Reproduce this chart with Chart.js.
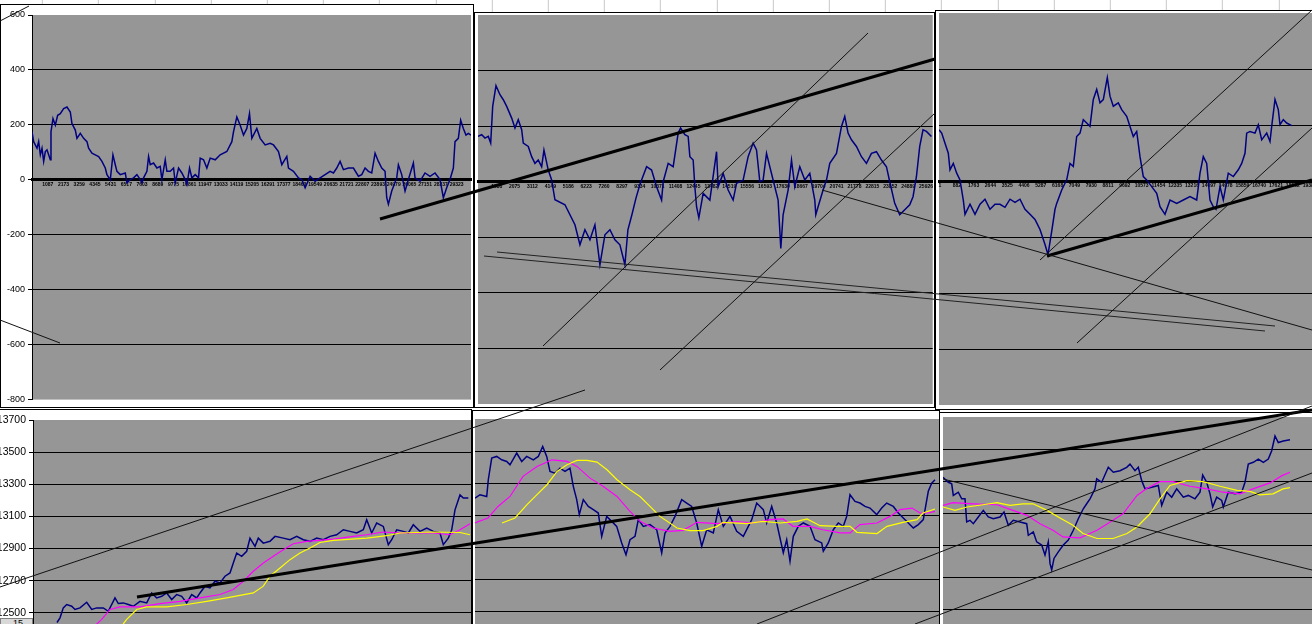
<!DOCTYPE html>
<html>
<head>
<meta charset="utf-8">
<script src="https://cdn.jsdelivr.net/npm/chart.js@4.4.0/dist/chart.umd.min.js"></script>
<style>
  html, body { margin: 0; padding: 0; }
  body { width: 1312px; height: 624px; overflow: hidden; position: relative; background: #fff; }
  #sheet { position: absolute; left: 0; top: 0; width: 1312px; height: 14px;
    background-image: repeating-linear-gradient(to right, transparent 0, transparent 55.2px, #c8c8c8 55.2px, #c8c8c8 56.2px);
    background-position: -13.2px 0; }
  .box { position: absolute; }
  .box canvas { display: block; }
  #rowtag { position: absolute; left: 0; top: 618px; width: 33px; height: 10px; background: #d8d8d8;
    border: 1px solid #808080; font: 9px "Liberation Sans", Arial, sans-serif; line-height: 9px; padding-left: 12px; box-sizing: border-box; }
</style>
</head>
<body>
<div id="sheet"></div>
<div class="box" style="left:0;top:4px"><canvas id="tl" width="474" height="404"></canvas></div>
<div class="box" style="left:474px;top:12px"><canvas id="tm" width="461" height="396"></canvas></div>
<div class="box" style="left:935px;top:10px"><canvas id="tr" width="395" height="400"></canvas></div>
<div class="box" style="left:-10px;top:409px"><canvas id="bl" width="482" height="250"></canvas></div>
<div class="box" style="left:472px;top:410px"><canvas id="bm" width="468" height="250"></canvas></div>
<div class="box" style="left:939px;top:412px"><canvas id="br" width="391" height="250"></canvas></div>
<div class="box" style="left:0;top:0"><canvas id="lines" width="1312" height="624"></canvas></div>
<div id="rowtag">15</div>
<script>
// ---- top row: difference series (bar number / value) ----
const tlBar = [0,115,345,460,575,690,805,920,1035,1150,1265,1311,1449,1610,1771,1955,2185,2415,2645,2760,2990,3105,3335,3565,3795,3910,4140,4370,4600,4830,5060,5175,5405,5589,5750,5865,6095,6440,6555,6785,7015,7245,7475,7590,7705,7935,8050,8165,8395,8625,8855,8970,9200,9315,9545,9775,9890,10120,10350,10580,10695,10879,11040,11270,11500,11615,11845,12075,12305,12650,12995,13455,13800,13915,14145,14375,14605,14835,15019,15180,15525,15755,16100,16445,16675,17020,17250,17595,17710,18055,18400,18630,18860,19205,19550,19895,20240,20585,20815,21045,21275,21505,21850,22195,22540,22770,23000,23230,23460,23690,23920,24150,24380,24495,24610,24840,25185,25300,25530,25760,25990,26335,26450,26795,27140,27485,27830,28175,28405,28635,28865,29095,29210,29440,29601,29785,29969,30130,30314];
const tlDiff = [175,139,115,139,91,115,67,103,109,91,73,175,223,199,235,241,259,265,247,205,181,151,169,151,139,115,97,91,85,67,43,19,0,91,55,31,19,25,-11,1,7,19,1,-11,7,31,85,55,61,43,49,1,73,31,31,43,-11,43,25,1,-17,43,7,19,7,79,73,43,79,73,91,103,139,175,229,199,163,187,241,151,187,151,127,133,127,103,55,85,43,31,7,1,-29,13,-5,7,19,31,25,43,67,37,43,43,13,19,43,31,25,97,67,43,31,-65,-89,-41,7,55,19,-41,1,61,7,-5,25,13,25,1,-65,-29,1,43,139,151,217,187,163,169,163];
const tlTicks = ['1087','2173','3259','4345','5431','6517','7603','8689','9775','10861','11947','13033','14119','15205','16291','17377','18463','19549','20635','21721','22807','23893','24979','26065','27151','28237','29323'];

const tmBar = [0,37,70,103,127,147,180,220,253,287,337,370,403,437,453,503,537,570,603,637,660,703,737,770,870,970,1020,1070,1120,1170,1220,1270,1320,1370,1420,1470,1500,1540,1580,1620,1687,1737,1787,1837,1853,1903,1953,2003,2027,2070,2103,2120,2153,2170,2187,2210,2253,2320,2387,2403,2453,2503,2553,2587,2653,2703,2753,2787,2820,2853,2887,2920,2953,3003,3030,3053,3103,3137,3170,3220,3270,3320,3370,3380,3403,3453,3487,3520,3587,3637,3670,3703,3737,3787,3837,3887,3937,3987,4037,4087,4120,4170,4220,4270,4320,4353,4387,4420,4453,4487,4537];
const tmDiff = [163,169,157,163,139,271,346,313,295,271,229,193,223,187,139,127,90,66,78,54,114,42,6,-65,-83,-155,-227,-173,-209,-155,-299,-191,-173,-209,-227,-299,-173,-119,-60,-10,54,42,-18,-66,0,66,54,175,193,169,163,90,78,-18,-90,-130,-42,-66,108,-18,30,-30,-66,-6,6,90,139,114,0,6,102,54,6,-66,-240,-119,-30,78,-18,54,6,30,-66,-119,-90,-30,6,66,102,199,235,175,151,127,90,66,102,108,78,54,0,-78,-119,-101,-83,-54,18,127,187,181,163];
const tmTicks = ['1038','2075','3112','4149','5186','6223','7260','8297','9334','10371','11408','12445','13482','14519','15556','16593','17630','18667','19704','20741','21778','22815','23852','24889','25926'];

const trBar = [0,27,60,93,110,143,177,210,243,260,310,360,410,460,510,560,610,660,710,760,810,860,910,960,1010,1060,1090,1130,1160,1177,1227,1277,1310,1343,1377,1410,1443,1477,1510,1543,1577,1610,1643,1683,1710,1743,1793,1827,1877,1910,1943,1977,2010,2043,2077,2127,2177,2210,2260,2310,2377,2443,2510,2577,2610,2643,2677,2710,2743,2770,2810,2843,2893,2943,2993,3027,3060,3077,3110,3160,3193,3227,3277,3310,3327,3360,3393,3410,3443,3477,3527];
const trDiff = [183,171,135,99,40,63,28,4,-68,-119,-83,-119,-83,-65,-101,-83,-83,-94,-65,-76,-65,-101,-119,-137,-173,-227,-263,-173,-101,-80,-32,4,63,52,159,171,219,207,195,291,327,279,291,369,303,267,279,255,231,195,159,177,87,16,4,-20,-44,-92,-119,-68,-80,-68,-56,-68,28,87,63,-68,-92,-101,-20,-68,28,16,40,63,99,171,177,171,201,147,171,141,195,291,255,201,219,207,198];
const trTicks = ['1','882','1763','2644','3525','4406','5287','6168','7049','7930','8811','9692','10573','11454','12335','13216','14097','14978','15859','16740','17621','18502','19383'];

const topYTicks = [-800,-600,-400,-200,0,200,400,600];

// ---- bottom row: price with two moving averages ----
const blBar = [240,270,303,337,387,420,470,537,587,637,703,753,820,853,903,953,1003,1070,1137,1187,1237,1287,1337,1387,1437,1487,1537,1587,1637,1670,1720,1770,1820,1870,1920,1970,2003,2037,2087,2137,2170,2220,2253,2303,2370,2420,2503,2570,2637,2703,2770,2837,2903,2970,3037,3103,3170,3237,3303,3337,3387,3437,3503,3553,3587,3637,3703,3753,3803,3870,3937,4003,4070,4103,4153,4187,4220,4270,4303,4353];
const blPrice = [12440,12469,12531,12552,12541,12521,12531,12566,12521,12531,12531,12510,12593,12558,12562,12552,12541,12572,12562,12624,12593,12603,12624,12583,12614,12603,12562,12614,12593,12624,12666,12655,12697,12686,12728,12748,12810,12872,12852,12883,12965,12914,12965,12934,12945,12976,12965,12955,12976,12955,12945,12965,12955,12976,12986,13017,13007,12997,13017,13079,12997,13059,13038,12924,12955,13017,13007,12997,13048,13007,13028,13007,12997,12924,12965,13017,13141,13234,13214,13214];
const blShortBar = [620,687,770,870,1070,1270,1470,1670,1870,2003,2103,2203,2303,2403,2503,2603,2737,3003,3203,3337,3503,3670,4003,4170,4270,4370];
const blShort = [12420,12459,12521,12537,12537,12558,12572,12593,12614,12645,12697,12759,12810,12852,12893,12930,12945,12959,12976,12986,13003,12997,12997,12986,13017,13055];
const blLongBar = [890,937,1037,1137,1337,1537,1737,1937,2203,2303,2370,2470,2570,2670,2770,2870,3003,3337,3537,3670,4003,4270,4370];
const blLong = [12420,12459,12521,12537,12537,12552,12572,12593,12624,12666,12728,12779,12831,12872,12903,12938,12951,12965,12980,12997,13003,13000,12986];

const bmBar = [0,50,117,133,167,217,267,317,350,417,467,517,583,633,677,717,750,800,850,900,950,983,1017,1043,1083,1133,1183,1233,1267,1317,1367,1417,1467,1510,1550,1600,1633,1683,1750,1817,1867,1900,1950,2000,2067,2117,2167,2217,2267,2317,2383,2433,2483,2550,2617,2683,2767,2817,2883,2917,2967,3017,3083,3117,3150,3183,3233,3283,3350,3400,3467,3483,3533,3583,3633,3683,3717,3750,3800,3850,3900,3950,4017,4067,4117,4183,4233,4283,4333,4383,4433,4483,4533,4567,4600];
const bmPrice = [13208,13229,13218,13322,13457,13467,13446,13436,13415,13488,13436,13467,13446,13467,13529,13467,13374,13363,13394,13374,13394,13281,13198,13105,13198,13156,13136,13115,12970,13094,13063,13032,12929,12856,12949,12970,13074,13032,13043,13011,12867,12991,13032,13094,13198,13177,13156,13053,12908,13011,12991,13136,13032,13094,13001,12970,13074,13177,13136,13053,13156,13053,12867,12949,12815,12970,13032,13053,13032,12949,12929,12877,12929,13011,13053,13032,13094,13229,13187,13177,13156,13146,13105,13146,13177,13156,13115,13084,13053,13022,13043,13074,13250,13301,13322];
const bmShortBar = [0,130,230,350,480,620,770,920,1020,1150,1280,1420,1550,1650,1780,1950,2080,2220,2420,2620,2780,2950,3080,3180,3350,3480,3650,3750,3850,4020,4150,4250,4370,4450,4530,4600];
const bmShort = [13053,13084,13156,13218,13343,13405,13446,13436,13405,13332,13281,13218,13125,13063,13022,13001,13007,13057,13049,13061,13053,13074,13078,13032,13032,13011,12991,12991,13043,13053,13094,13136,13146,13115,13115,13125];
const bmLongBar = [270,400,520,620,720,820,920,1020,1120,1220,1320,1420,1550,1650,1750,1850,2020,2150,2280,2420,2480,2720,2880,3050,3220,3320,3450,3620,3750,3820,4020,4120,4280,4420,4480,4600];
const bmLong = [13053,13084,13167,13229,13291,13374,13415,13442,13442,13432,13384,13322,13260,13218,13156,13094,13022,13005,13005,13032,13057,13049,13063,13053,13063,13078,13036,13032,13032,12995,12987,13032,13057,13074,13115,13140];

const brBar = [0,53,87,103,153,187,220,237,270,303,353,403,453,503,570,610,653,703,770,837,853,903,937,987,1020,1053,1070,1087,1110,1153,1203,1253,1303,1353,1403,1437,1470,1520,1537,1587,1653,1703,1770,1837,1870,1920,1953,1987,2020,2087,2153,2187,2237,2287,2337,2403,2453,2520,2570,2597,2637,2670,2697,2737,2787,2803,2853,2920,2987,3020,3053,3103,3153,3203,3253,3287,3320,3353,3403,3470];
const brPrice = [13325,13294,13284,13212,13232,13191,13191,13047,13057,13036,13078,13119,13078,13067,13078,13109,13026,13057,13047,13036,12964,12985,12923,12903,12841,12923,12789,12748,12820,12861,12903,12934,12995,13067,13129,13160,13191,13253,13315,13294,13387,13356,13366,13387,13407,13366,13387,13304,13253,13263,13274,13150,13232,13201,13253,13201,13212,13191,13232,13339,13294,13222,13140,13201,13181,13140,13232,13222,13232,13294,13407,13418,13438,13418,13438,13490,13582,13541,13551,13558];
const brShortBar = [0,100,300,540,700,840,970,1100,1200,1370,1540,1700,1800,1940,2040,2170,2300,2470,2640,2800,2970,3100,3270,3390,3470];
const brShort = [13150,13167,13160,13154,13119,13088,13036,12995,12954,12948,12995,13057,13098,13212,13257,13298,13298,13269,13253,13232,13222,13253,13290,13335,13356];
const brLongBar = [0,120,240,400,540,670,800,900,1040,1170,1300,1400,1540,1700,1840,1940,2070,2170,2270,2440,2600,2770,2940,3070,3170,3300,3400,3470];
const brLong = [13140,13119,13140,13154,13167,13150,13160,13160,13119,13072,13026,12975,12944,12944,12975,13016,13098,13191,13274,13304,13298,13269,13243,13237,13216,13222,13253,13261];

const bottomYTicks = [12300,12500,12700,12900,13100,13300,13500,13700];

// trend lines drawn on the sheet (sheet units, x 0-1312, y 0-624 from top)
const thinLines = [
  [0,21,29,6], [0,320,60,343], [543,346,868,33], [660,370,935,113], [822,190,1312,330],
  [0,587,585,390], [1040,260,1312,10], [1077,343,1312,128], [943,479,1312,570],
  [757,624,1312,406], [915,624,1312,473]
];
const thickLines = [[380,219,935,59], [1047,256,1312,180], [137,597,1312,410]];
const pairLines = [[484,256,1265,331], [497,252,1275,326]];

Chart.defaults.font.family = '"Liberation Sans", Arial, sans-serif';

const frame = {
  id: 'frame',
  beforeDraw(chart) {
    const { ctx, chartArea: a, width, height } = chart;
    ctx.save();
    ctx.fillStyle = '#fff';
    ctx.fillRect(0, 0, width, height);
    ctx.strokeStyle = '#000';
    ctx.lineWidth = 1;
    ctx.strokeRect(0.5, 0.5, width - 1, height - 1);
    ctx.fillStyle = '#969696';
    ctx.fillRect(a.left, a.top, a.right - a.left, a.bottom - a.top);
    ctx.restore();
  }
};

function pts(xs, ys) {
  return xs.map((x, i) => ({ x: x, y: ys[i] }));
}

function series(xs, ys, color, width, order) {
  return { data: pts(xs, ys), borderColor: color, borderWidth: width, pointRadius: 0, tension: 0, order: order };
}

function panel(id, o) {
  const lo = o.yTicks[0], hi = o.yTicks[o.yTicks.length - 1];
  const x = o.xTicks ? {
    type: 'linear', min: 0, max: o.xMax,
    position: { y: 0 },
    grid: { color: 'rgba(0,0,0,0)', drawTicks: false },
    border: { display: true, color: '#000', width: 3 },
    ticks: { font: { size: 5, weight: 'bold' }, color: '#000', padding: 2, maxRotation: 0, autoSkip: false,
      callback: (v, i) => o.xTicks[i] },
    afterBuildTicks: s => { s.ticks = o.xTicks.map((l, i) => ({ value: o.xFirst + i * o.xStep })); }
  } : { type: 'linear', min: 0, max: o.xMax, display: false };
  return new Chart(document.getElementById(id), {
    type: 'line',
    data: { datasets: o.sets },
    options: {
      responsive: false, animation: false, devicePixelRatio: 1, events: [],
      layout: { padding: o.pad },
      plugins: { legend: { display: false }, tooltip: { enabled: false } },
      scales: {
        x: x,
        y: {
          type: 'linear', min: lo, max: hi,
          grid: { color: c => (c.tick.value === lo || c.tick.value === hi) ? 'rgba(0,0,0,0)' : '#000',
            lineWidth: 1, drawTicks: o.yLabels, tickLength: 4, tickColor: '#000' },
          border: { display: o.yLabels, color: '#000', width: 1 },
          ticks: { display: o.yLabels, color: '#000', font: { size: o.yFont }, padding: 3, callback: v => String(v) },
          afterBuildTicks: s => { s.ticks = o.yTicks.map(v => ({ value: v })); },
          afterFit: s => { s.width = o.yWidth; }
        }
      }
    },
    plugins: [frame]
  });
}

const navy = '#000080', magenta = '#FF00FF', yellow = '#FFFF00';

panel('tl', { sets: [series(tlBar, tlDiff, navy, 1.5, 1)], xMax: 30314, xTicks: tlTicks, xFirst: 1086, xStep: 1086,
  yTicks: topYTicks, yLabels: true, yFont: 9, yWidth: 28, pad: { left: 4, top: 11, right: 3, bottom: 4 } });
panel('tm', { sets: [series(tmBar, tmDiff, navy, 1.5, 1)], xMax: 4550, xTicks: tmTicks, xFirst: 187, xStep: 179,
  yTicks: topYTicks, yLabels: false, yFont: 9, yWidth: 0, pad: { left: 4, top: 3, right: 2, bottom: 4 } });
panel('tr', { sets: [series(trBar, trDiff, navy, 1.5, 1)], xMax: 3870, xTicks: trTicks, xFirst: 10, xStep: 168,
  yTicks: topYTicks, yLabels: false, yFont: 9, yWidth: 0, pad: { left: 4, top: 3, right: 4, bottom: 5 } });

panel('bl', { sets: [series(blBar, blPrice, navy, 1.5, 3), series(blShortBar, blShort, magenta, 1.2, 2), series(blLongBar, blLong, yellow, 1.2, 1)],
  xMax: 4380, yTicks: bottomYTicks, yLabels: true, yFont: 10.5, yWidth: 40, pad: { left: 3, top: 11, right: 1, bottom: 14 } });
panel('bm', { sets: [series(bmBar, bmPrice, navy, 1.5, 3), series(bmShortBar, bmShort, magenta, 1.2, 2), series(bmLongBar, bmLong, yellow, 1.2, 1)],
  xMax: 4640, yTicks: bottomYTicks, yLabels: false, yFont: 11, yWidth: 0, pad: { left: 3, top: 9, right: 1, bottom: 16 } });
panel('br', { sets: [series(brBar, brPrice, navy, 1.5, 3), series(brShortBar, brShort, magenta, 1.2, 2), series(brLongBar, brLong, yellow, 1.2, 1)],
  xMax: 3830, yTicks: bottomYTicks, yLabels: false, yFont: 11, yWidth: 0, pad: { left: 4, top: 5, right: 4, bottom: 20 } });

// drawn trend lines over the whole sheet
function seg(l, color, width) {
  return { data: [{ x: l[0], y: l[1] }, { x: l[2], y: l[3] }], showLine: true, borderColor: color, borderWidth: width, pointRadius: 0 };
}
new Chart(document.getElementById('lines'), {
  type: 'scatter',
  data: { datasets: [].concat(
    thinLines.map(l => seg(l, '#111', 1)),
    pairLines.map(l => seg(l, '#222', 1)),
    thickLines.map(l => seg(l, '#000', 3))
  ) },
  options: {
    responsive: false, animation: false, devicePixelRatio: 1, events: [],
    layout: { padding: 0 },
    plugins: { legend: { display: false }, tooltip: { enabled: false } },
    scales: {
      x: { type: 'linear', min: 0, max: 1312, display: false },
      y: { type: 'linear', min: 0, max: 624, reverse: true, display: false }
    }
  }
});
</script>
</body>
</html>
